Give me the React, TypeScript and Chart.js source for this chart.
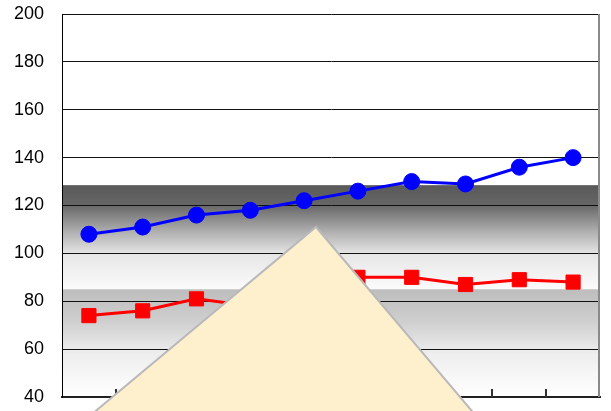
import { useEffect, useRef } from "react";
import { Chart, registerables } from "chart.js";

Chart.register(...registerables);

// Categories along the horizontal axis (labels are not printed)
const categories = ["1", "2", "3", "4", "5", "6", "7", "8", "9", "10"];

// Series values
const blueSeries = [108, 111, 116, 118, 122, 126, 130, 129, 136, 140];
const redSeries = [74, 76, 81, 78, 86, 90, 90, 87, 89, 88];

// Value axis range
const yMin = 40;
const yMax = 200;
const yStep = 20;

// Shaded reference bands (from value, to value)
const upperBand = [128.5, 85];
const lowerBand = [85, 40];

const bandPlugin = {
  id: "bands",
  beforeDraw(chart: any) {
    const { ctx, chartArea, scales } = chart;
    const y = scales.y;
    const drawBand = (range: number[], stops: [number, string][]) => {
      const top = y.getPixelForValue(range[0]);
      const bottom = y.getPixelForValue(range[1]);
      const g = ctx.createLinearGradient(0, top, 0, bottom);
      stops.forEach(([o, c]) => g.addColorStop(o, c));
      ctx.save();
      ctx.fillStyle = g;
      ctx.fillRect(chartArea.left, top, chartArea.right - chartArea.left, bottom - top);
      ctx.restore();
    };
    drawBand(upperBand, [
      [0, "#595959"],
      [0.19, "#666666"],
      [0.45, "#b0b0b0"],
      [0.66, "#e6e6e6"],
      [1, "#fbfbfb"],
    ]);
    drawBand(lowerBand, [
      [0, "#bdbdbd"],
      [0.3, "#cfcfcf"],
      [0.6, "#eeeeee"],
      [1, "#ffffff"],
    ]);
  },
  beforeDatasetsDraw(chart: any) {
    const { ctx, chartArea, scales } = chart;
    const x = scales.x;
    ctx.save();
    // right frame edge
    ctx.strokeStyle = "#8a8a8a";
    ctx.lineWidth = 2;
    ctx.beginPath();
    ctx.moveTo(chartArea.right - 1, chartArea.top);
    ctx.lineTo(chartArea.right - 1, chartArea.bottom);
    ctx.stroke();
    // inward tick marks between categories
    ctx.strokeStyle = "#333333";
    ctx.lineWidth = 2;
    for (let i = 1; i < categories.length; i++) {
      const px = Math.round((x.getPixelForTick(i - 1) + x.getPixelForTick(i)) / 2);
      ctx.beginPath();
      ctx.moveTo(px, chartArea.bottom);
      ctx.lineTo(px, chartArea.bottom - 8);
      ctx.stroke();
    }
    ctx.restore();
  },
  afterDraw(chart: any) {
    const { ctx } = chart;
    // overlay shape
    ctx.save();
    ctx.beginPath();
    ctx.moveTo(316, 227);
    ctx.lineTo(316 + 210 / 1.18, 437);
    ctx.lineTo(316 - 210 / 0.835, 437);
    ctx.closePath();
    ctx.fillStyle = "#fff0cd";
    ctx.fill();
    ctx.strokeStyle = "#b9b9b9";
    ctx.lineWidth = 2;
    ctx.stroke();
    ctx.restore();
  },
};

export default function App() {
  const canvasRef = useRef<HTMLCanvasElement | null>(null);

  useEffect(() => {
    const canvas = canvasRef.current;
    if (!canvas) return;
    const chart = new Chart(canvas, {
      type: "line",
      data: {
        labels: categories,
        datasets: [
          {
            data: blueSeries,
            borderColor: "#0000ff",
            backgroundColor: "#0000ff",
            borderWidth: 3,
            pointStyle: "circle",
            pointRadius: 8,
            pointBorderWidth: 1,
            tension: 0,
          },
          {
            data: redSeries,
            borderColor: "#ff0000",
            backgroundColor: "#ff0000",
            borderWidth: 3,
            pointStyle: "rect",
            pointRadius: 10,
            pointBorderWidth: 1,
            tension: 0,
          },
        ],
      },
      options: {
        animation: false,
        responsive: false,
        devicePixelRatio: 1,
        layout: { padding: { left: 0, top: 14, right: 8, bottom: 0 } },
        plugins: {
          legend: { display: false },
          tooltip: { enabled: false },
        },
        scales: {
          x: {
            offset: true,
            grid: { display: false },
            ticks: { display: false },
            border: { display: true, color: "#222222", width: 2 },
            afterFit(scale: any) {
              scale.height = 14;
              scale.paddingLeft = 0;
              scale.paddingRight = 0;
            },
          },
          y: {
            min: yMin,
            max: yMax,
            ticks: {
              stepSize: yStep,
              color: "#000000",
              padding: 18,
              font: { family: "'Liberation Sans', Arial, sans-serif", size: 18 },
            },
            grid: { color: "#111111", lineWidth: 1, drawTicks: false },
            border: { display: true, color: "#000000", width: 1 },
            afterFit(scale: any) {
              scale.width = 62;
              scale.paddingTop = 0;
              scale.paddingBottom = 0;
            },
          },
        },
      },
      plugins: [bandPlugin],
    });
    return () => chart.destroy();
  }, []);

  return (
    <div style={{ position: "fixed", left: 0, top: 0, width: 611, height: 411, background: "#ffffff" }}>
      <canvas ref={canvasRef} width={611} height={411} />
    </div>
  );
}
